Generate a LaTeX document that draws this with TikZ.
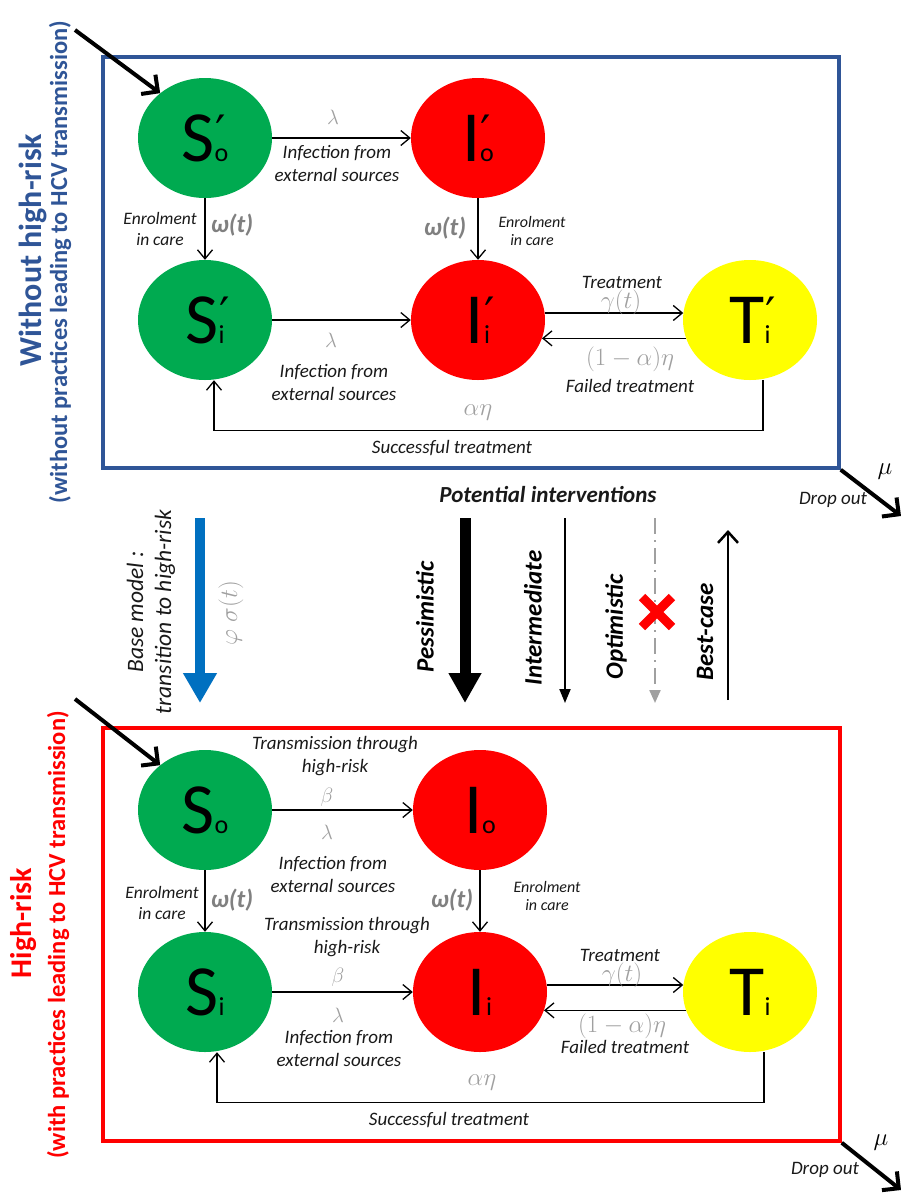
\documentclass[tikz,border=0pt]{standalone}
\usepackage{fontspec}
\setmainfont{Carlito}
\newfontfamily\dejavu{DejaVu Sans}
\usetikzlibrary{arrows.meta,shapes.geometric}
\definecolor{cgreen}{RGB}{0,170,80}
\definecolor{cred}{RGB}{255,0,0}
\definecolor{cyellow}{RGB}{255,255,0}
\definecolor{boxblue}{RGB}{47,85,151}
\definecolor{arrblue}{RGB}{0,112,192}
\definecolor{mgray}{RGB}{160,160,160}
\definecolor{wgray}{RGB}{128,128,128}
\definecolor{txt}{RGB}{25,25,25}
\newcommand\cmpP[2]{{\fontsize{72}{72}\selectfont #1}\rlap{\smash{\raisebox{13pt}{\kern0.5pt{\dejavu\fontsize{46}{46}\selectfont ′}}}}{\fontsize{26}{26}\selectfont #2}}
\newcommand\cmpN[2]{{\fontsize{72}{72}\selectfont #1}{\fontsize{26}{26}\selectfont #2}}
\begin{document}
\begin{tikzpicture}[x=1pt,y=-1pt,
  cmpt/.style={ellipse, minimum width=134pt, minimum height=120pt, inner sep=0pt, text=black},
  sus/.style={cmpt, fill=cgreen},
  inf/.style={cmpt, fill=cred},
  trt/.style={cmpt, fill=cyellow},
  arr/.style={line width=1.3pt, -{Straight Barb[length=9pt,width=15pt]}},
  bigarr/.style={line width=4pt, -{Straight Barb[length=12pt,width=24pt]}},
  lbl/.style={font=\fontsize{19}{23}\selectfont\itshape, align=center, text=txt, inner sep=0pt},
  enr/.style={font=\fontsize{17.5}{21}\selectfont\itshape, align=center, text=txt, inner sep=0pt},
  enrs/.style={font=\fontsize{16}{18.5}\selectfont\itshape, align=center, text=txt, inner sep=0pt},
  prm/.style={text=mgray, font=\fontsize{24}{24}\selectfont, inner sep=0pt},
  prms/.style={text=mgray, font=\fontsize{21}{21}\selectfont, inner sep=0pt},
  om/.style={text=wgray, font=\fontsize{25}{25}\selectfont\bfseries\itshape, inner sep=0pt},
  rlab/.style={rotate=90, font=\fontsize{25}{25}\selectfont\bfseries\itshape, inner sep=0pt},
  mu/.style={font=\fontsize{24}{24}\selectfont, inner sep=0pt}
]
\useasboundingbox (0,0) rectangle (901,1197);

% ---------- boxes ----------
\node[draw=boxblue, line width=3.5pt, minimum width=736pt, minimum height=411pt, inner sep=0pt] (boxA) at (471,262.5) {};
\node[draw=cred, line width=3.5pt, minimum width=737pt, minimum height=413pt, inner sep=0pt] (boxB) at (471.5,934.5) {};

% ---------- side titles ----------
\node[rotate=90, font=\fontsize{32}{32}\selectfont\bfseries, text=boxblue, inner sep=0pt] (tA) at (33,250) {Without high-risk};
\node[rotate=90, font=\fontsize{24.5}{24.5}\selectfont\bfseries, text=boxblue, inner sep=0pt] (sA) at (60,262) {(without practices leading to HCV transmission)};
\node[rotate=90, font=\fontsize{30}{30}\selectfont\bfseries, text=cred, inner sep=0pt] (tB) at (24,923) {High-risk};
\node[rotate=90, font=\fontsize{24.5}{24.5}\selectfont\bfseries, text=cred, inner sep=0pt] (sB) at (58,935) {(with practices leading to HCV transmission)};

% ---------- top compartments ----------
\node[sus] (So1) at (205,138) {\cmpP{S}{o}};
\node[inf] (Io1) at (478,138) {\cmpP{I}{o}};
\node[sus] (Si1) at (205,320) {\cmpP{S}{i}};
\node[inf] (Ii1) at (478,320) {\cmpP{I}{i}};
\node[trt] (Ti1) at (750,320) {\cmpP{T}{i}};

\draw[arr] (So1) -- (Io1);
\draw[arr] (So1) -- (Si1);
\draw[arr] (Io1) -- (Ii1);
\draw[arr] (Si1) -- (Ii1);
\draw[arr] (Ii1.6) -- (Ti1.174);
\draw[arr] (Ti1.196) -- (Ii1.-16);
\draw[arr] ([xshift=13pt]Ti1.south) -- ++(0,50) -| ([xshift=9pt]Si1.south);

\node[prms] (a1) at (333,117) {$\lambda$};
\node[lbl] (a2) at (337,164) {Infection from\\external sources};
\node[enr] (a3) at (160,229) {Enrolment\\in care};
\node[om] (a4) at (232,225) {ω(t)};
\node[om] (a5) at (445,228) {ω(t)};
\node[enrs] (a6) at (532,231) {Enrolment\\in care};
\node[prms] (a7) at (331,340) {$\lambda$};
\node[lbl] (a8) at (334,382) {Infection from\\external sources};
\node[lbl] (a9) at (622,282) {Treatment};
\node[prm] (a10) at (621,302) {$\gamma(t)$};
\node[prm] (a11) at (630,359) {$(1-\alpha)\eta$};
\node[lbl] (a12) at (630,386) {Failed treatment};
\node[prm] (a13) at (478,413) {$\alpha\eta$};
\node[lbl] (a14) at (452,448) {Successful treatment};

\coordinate (e1) at (75,30);
\draw[bigarr] (e1) -- (So1.135);
\coordinate (d1) at (901,516);
\draw[bigarr] (boxA.south east) -- (d1);
\node[mu] (m1) at (885,472) {$\mu$};
\node[lbl] (m2) at (833,500) {Drop out};

% ---------- middle ----------
\coordinate (bA) at (200,518);
\coordinate (bB) at (200,703);
\draw[line width=10pt, arrblue, -{Triangle[length=30pt,width=32pt]}] (bA) -- (bB);
\node[rotate=90, font=\fontsize{23.5}{28}\selectfont\itshape, align=center, text=txt, inner sep=0pt] (c1) at (151,612) {Base model :\\transition to high-risk};
\node[prm, rotate=90, font=\fontsize{27}{27}\selectfont] (c2) at (231,613) {$\varphi\;\sigma(t)$};

\node[font=\fontsize{23}{23}\selectfont\bfseries\itshape, text=txt, inner sep=0pt] (c3) at (548,495) {Potential interventions};

\coordinate (pA) at (465,518);
\coordinate (pB) at (465,703);
\draw[line width=11pt, -{Triangle[length=30pt,width=31pt]}] (pA) -- (pB);
\node[rlab] (c4) at (425,617) {Pessimistic};

\coordinate (iA) at (565,518);
\coordinate (iB) at (565,703);
\draw[line width=2pt, -{Triangle[length=14pt,width=11pt]}] (iA) -- (iB);
\node[rlab] (c5) at (533,618) {Intermediate};

\coordinate (oA) at (655,518);
\coordinate (oB) at (655,703);
\draw[line width=2.2pt, mgray, dash pattern=on 16pt off 6pt on 2pt off 6pt, -{Triangle[length=13pt,width=11pt]}] (oA) -- (oB);
\node[rlab] (c6) at (616,627) {Optimistic};
\draw[cred, line width=9pt] (642,597) -- (672,627) (642,627) -- (672,597);

\coordinate (qA) at (728,700);
\coordinate (qB) at (728,530);
\draw[line width=2.5pt, -{Straight Barb[length=11pt,width=20pt]}] (qA) -- (qB);
\node[rlab] (c7) at (705,632) {Best-case};

% ---------- bottom compartments ----------
\node[sus] (So2) at (205,810) {\cmpN{S}{o}};
\node[inf] (Io2) at (480,810) {\cmpN{I}{o}};
\node[sus] (Si2) at (205,992) {\cmpN{S}{i}};
\node[inf] (Ii2) at (480,992) {\cmpN{I}{i}};
\node[trt] (Ti2) at (750,992) {\cmpN{T}{i}};

\draw[arr] (So2) -- (Io2);
\draw[arr] (So2) -- (Si2);
\draw[arr] (Io2) -- (Ii2);
\draw[arr] (Si2) -- (Ii2);
\draw[arr] (Ii2.6) -- (Ti2.174);
\draw[arr] (Ti2.196) -- (Ii2.-16);
\draw[arr] ([xshift=14pt]Ti2.south) -- ++(0,50) -| ([xshift=12pt]Si2.south);

\node[lbl] (b1) at (335,756) {Transmission through\\high-risk};
\node[prms] (b2) at (327,797) {$\beta$};
\node[prms] (b3) at (327,832) {$\lambda$};
\node[lbl] (b4) at (333,874) {Infection from\\external sources};
\node[enr] (b5) at (162,903) {Enrolment\\in care};
\node[om] (b6) at (232,900) {ω(t)};
\node[om] (b7) at (452,900) {ω(t)};
\node[enrs] (b8) at (547,896) {Enrolment\\in care};
\node[lbl] (b9) at (347,937) {Transmission through\\high-risk};
\node[prms] (b10) at (338,977) {$\beta$};
\node[prms] (b11) at (338,1015) {$\lambda$};
\node[lbl] (b12) at (339,1048) {Infection from\\external sources};
\node[lbl] (b13) at (620,955) {Treatment};
\node[prm] (b14) at (622,975) {$\gamma(t)$};
\node[prm] (b15) at (622,1026) {$(1-\alpha)\eta$};
\node[lbl] (b16) at (625,1047) {Failed treatment};
\node[prm] (b17) at (482,1083) {$\alpha\eta$};
\node[lbl] (b18) at (449,1120) {Successful treatment};

\coordinate (e2) at (75,699);
\draw[bigarr] (e2) -- (So2.135);
\coordinate (d2) at (901,1190);
\draw[bigarr] (boxB.south east) -- (d2);
\node[mu] (m3) at (881,1143) {$\mu$};
\node[lbl] (m4) at (825,1170) {Drop out};
\end{tikzpicture}
\end{document}
